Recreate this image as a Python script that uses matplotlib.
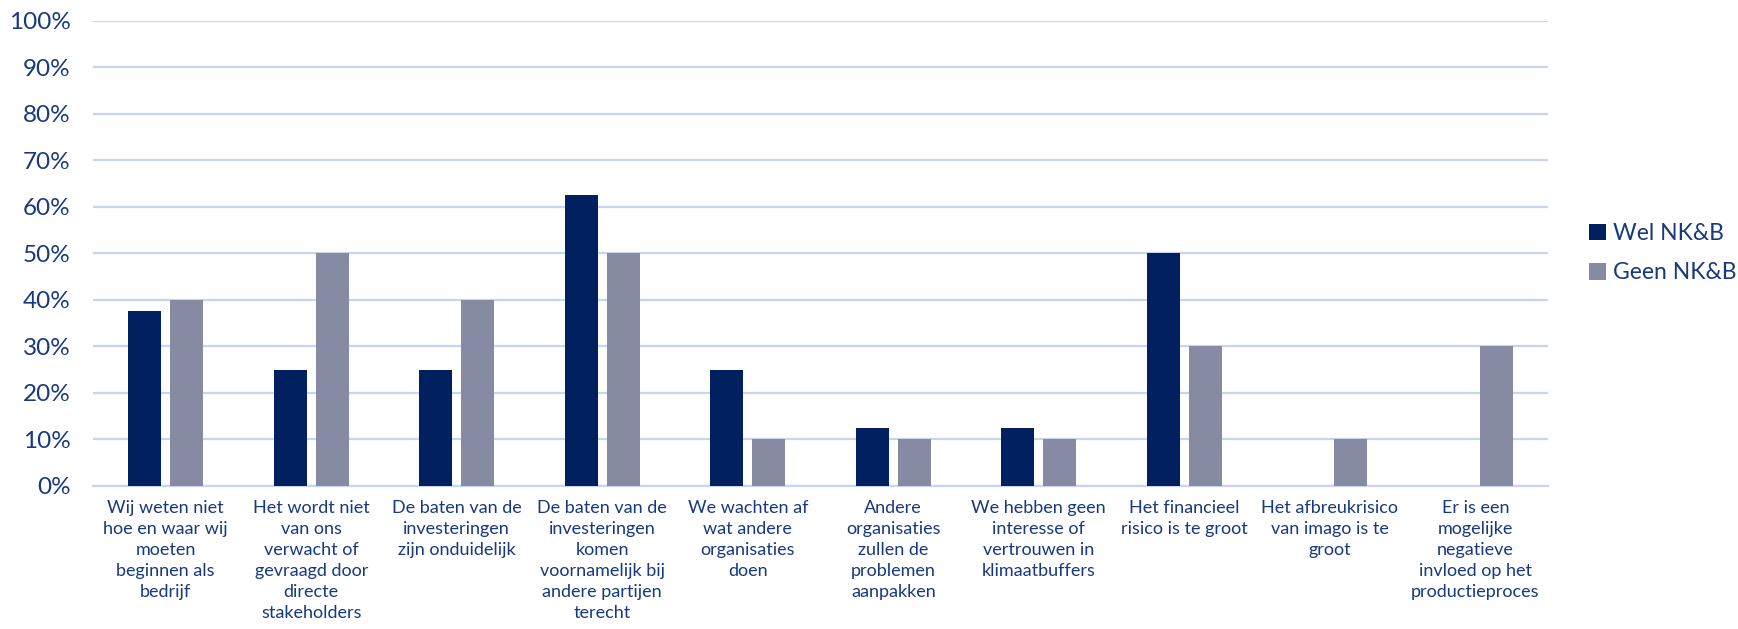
import numpy as np
import matplotlib.pyplot as plt
from matplotlib.ticker import MultipleLocator, PercentFormatter

# Redenen om (nog) niet te investeren, per groep
categories = [
    "Wij weten niet\nhoe en waar wij\nmoeten\nbeginnen als\nbedrijf",
    "Het wordt niet\nvan ons\nverwacht of\ngevraagd door\ndirecte\nstakeholders",
    "De baten van de\ninvesteringen\nzijn onduidelijk",
    "De baten van de\ninvesteringen\nkomen\nvoornamelijk bij\nandere partijen\nterecht",
    "We wachten af\nwat andere\norganisaties\ndoen",
    "Andere\norganisaties\nzullen de\nproblemen\naanpakken",
    "We hebben geen\ninteresse of\nvertrouwen in\nklimaatbuffers",
    "Het financieel\nrisico is te groot",
    "Het afbreukrisico\nvan imago is te\ngroot",
    "Er is een\nmogelijke\nnegatieve\ninvloed op het\nproductieproces",
]
wel_nkb = [37.5, 25, 25, 62.5, 25, 12.5, 12.5, 50, 0, 0]
geen_nkb = [40, 50, 40, 50, 10, 10, 10, 30, 10, 30]
series_names = ["Wel NK&B", "Geen NK&B"]

NAVY = "#002060"
GREY = "#878AA3"
GRID = "#C6D5F3"
TEXT = "#17397F"

plt.rcParams['font.family'] = ['Lato', 'DejaVu Sans']

W, H = 1738, 629
fig = plt.figure(figsize=(W / 100, H / 100), dpi=100)
ax = fig.add_axes([93 / W, (H - 486) / H, (1548 - 93) / W, (486 - 20.5) / H])

x = np.arange(len(categories))
bw = 0.227
off = 0.145
ax.bar(x - off, wel_nkb, bw, color=NAVY, label=series_names[0], zorder=3)
ax.bar(x + off, geen_nkb, bw, color=GREY, label=series_names[1], zorder=3)

ax.set_xlim(-0.5, len(categories) - 0.5)
ax.set_ylim(0, 100)
ax.yaxis.set_major_locator(MultipleLocator(10))
ax.yaxis.set_major_formatter(PercentFormatter(decimals=0))
ax.grid(axis='y', color=GRID, linewidth=1.6, zorder=0)
ax.set_axisbelow(True)

for side in ['top', 'right', 'left']:
    ax.spines[side].set_visible(False)
ax.spines['bottom'].set_color(GRID)
ax.spines['bottom'].set_linewidth(1.6)

ax.set_xticks(x)
ax.set_xticklabels(categories, fontsize=13, color=TEXT, linespacing=1.39)
ax.tick_params(axis='x', length=0, pad=10)
ax.tick_params(axis='y', length=0, pad=16, labelsize=17.5, labelcolor=TEXT)

leg = ax.legend(loc='center left', bbox_to_anchor=(1 + 41 / 1455, 0.5),
                frameon=False, fontsize=16.5, handlelength=0.75, handleheight=0.75,
                handletextpad=0.3, labelspacing=0.8, borderaxespad=0, borderpad=0)
for t in leg.get_texts():
    t.set_color(TEXT)

fig.savefig("out.png", dpi=100)
